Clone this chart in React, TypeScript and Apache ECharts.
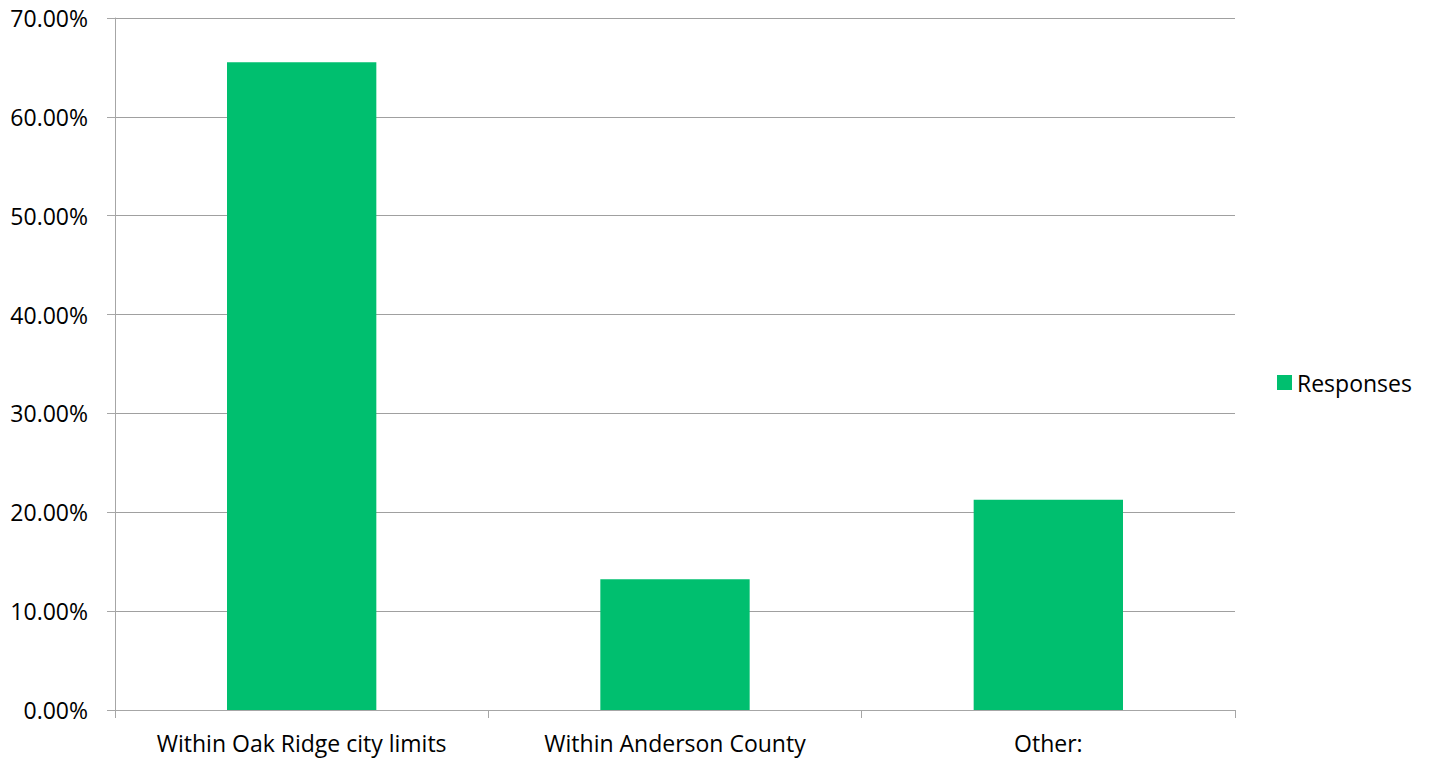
import React, { useEffect, useRef } from "react";
import * as echarts from "echarts";

const categories = ["Within Oak Ridge city limits", "Within Anderson County", "Other:"];
const responses = [0.6552, 0.1322, 0.2126];
const seriesName = "Responses";

export default function App() {
  const ref = useRef<HTMLDivElement>(null);
  useEffect(() => {
    const chart = echarts.init(ref.current!, null, { renderer: "svg" });
    const font = "Open Sans, Lato, sans-serif";
    chart.setOption({
      animation: false,
      backgroundColor: "#ffffff",
      grid: { left: 115, top: 18, right: 196, bottom: 54, containLabel: false },
      legend: {
        show: true,
        data: [seriesName],
        left: 1272,
        top: 366,
        orient: "vertical",
        icon: "rect",
        itemWidth: 15,
        itemHeight: 15,
        itemGap: 6,
        textStyle: { fontFamily: font, fontSize: 23, color: "#000" },
      },
      xAxis: {
        type: "category",
        data: categories,
        axisLine: { show: true, lineStyle: { color: "#a6a6a6", width: 1 } },
        axisTick: { show: true, interval: 0, length: 8, lineStyle: { color: "#a6a6a6" } },
        axisLabel: { interval: 0, hideOverlap: false, fontFamily: font, fontSize: 23, color: "#000", margin: 21 },
      },
      yAxis: {
        type: "value",
        min: 0,
        max: 0.7,
        interval: 0.1,
        axisLine: { show: true, lineStyle: { color: "#a6a6a6", width: 1 } },
        axisTick: { show: true, length: 8, lineStyle: { color: "#a6a6a6" } },
        splitLine: { show: true, lineStyle: { color: "#a0a0a0", width: 1 } },
        axisLabel: {
          fontFamily: font,
          fontSize: 23,
          color: "#000",
          margin: 27,
          formatter: (v: number) => (v * 100).toFixed(2) + "%",
        },
      },
      series: [
        {
          name: seriesName,
          type: "bar",
          data: responses,
          barWidth: "40%",
          itemStyle: { color: "#00bf6f" },
        },
      ],
    });
    return () => chart.dispose();
  }, []);
  return <div ref={ref} style={{ width: 1431, height: 764, position: "absolute", left: 0, top: 0 }} />;
}
